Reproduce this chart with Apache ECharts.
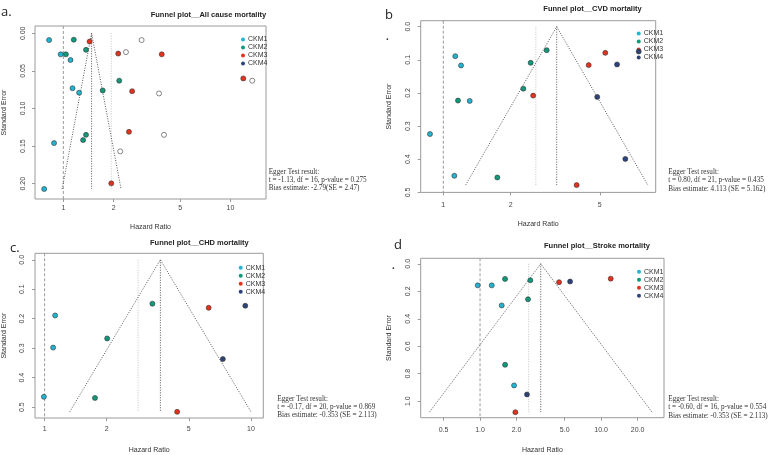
<!DOCTYPE html>
<html>
<head>
<meta charset="utf-8">
<script src="https://cdn.jsdelivr.net/npm/echarts@6/dist/echarts.min.js"></script>
<style>
  html, body { margin: 0; padding: 0; background: #fff; }
  #chart { width: 776px; height: 455px; }
</style>
</head>
<body>
<div id="chart"></div>
<script>
// Funnel plots, four panels. Points are [hazard ratio, standard error]
const groups = ['CKM1', 'CKM2', 'CKM3', 'CKM4'];
const groupColors = ['#22b4d3', '#10997a', '#e5321f', '#2d4379'];

// a. All cause mortality
const aCKM1 = [[0.822, 0.009], [0.964, 0.028], [1.104, 0.0355], [1.135, 0.073], [1.243, 0.079], [0.880, 0.146], [0.768, 0.207]];
const aCKM2 = [[1.155, 0.0085], [1.036, 0.028], [1.367, 0.022], [2.16, 0.063], [1.72, 0.076], [1.367, 0.135], [1.313, 0.142]];
const aCKM3 = [[1.436, 0.011], [2.13, 0.027], [3.88, 0.028], [11.93, 0.060], [2.58, 0.077], [2.47, 0.131], [1.936, 0.1995]];
const aCKM4 = [];
const aFilled = [[2.94, 0.009], [2.37, 0.025], [13.5, 0.063], [3.74, 0.080], [4.0, 0.135], [2.19, 0.157]];

// b. CVD mortality
const bCKM1 = [[1.131, 0.089], [1.20, 0.117], [1.312, 0.224], [0.872, 0.324], [1.12, 0.45]];
const bCKM2 = [[2.895, 0.071], [2.456, 0.109], [2.277, 0.187], [1.163, 0.223], [1.743, 0.455]];
const bCKM3 = [[5.29, 0.079], [4.46, 0.116], [2.52, 0.208], [3.94, 0.478]];
const bCKM4 = [[7.46, 0.075], [5.97, 0.114], [4.87, 0.212], [6.5, 0.399]];

// c. CHD mortality
const cCKM1 = [[1.125, 0.189], [1.10, 0.298], [0.992, 0.465]];
const cCKM2 = [[3.33, 0.149], [2.01, 0.267], [1.755, 0.469]];
const cCKM3 = [[6.24, 0.163], [4.39, 0.516]];
const cCKM4 = [[9.39, 0.156], [7.31, 0.337]];

// d. Stroke mortality
const dCKM1 = [[0.957, 0.157], [1.249, 0.157], [1.51, 0.303], [1.91, 0.885]];
const dCKM2 = [[1.609, 0.11], [2.60, 0.12], [2.49, 0.258], [1.61, 0.735]];
const dCKM3 = [[12.0, 0.108], [4.49, 0.134], [1.957, 1.08]];
const dCKM4 = [[5.54, 0.129], [2.44, 0.951]];

// pooled estimate (funnel apex) and the light dotted reference per panel
const funnelCenter = [1.476, 3.21, 3.64, 3.17];
const refLine = [1.936, 2.59, 2.84, 2.52];

const titles = ['Funnel plot__All cause mortality', 'Funnel plot__CVD mortality', 'Funnel plot__CHD mortality', 'Funnel plot__Stroke mortality'];
const panelLetters = ['a.', 'b', 'c.', 'd'];
const xTicks = [['1', '2', '5', '10'], ['1', '2', '5'], ['1', '2', '5', '10'], ['0.5', '1.0', '2.0', '5.0', '10.0', '20.0']];
const yTicks = [['0.00', '0.05', '0.10', '0.15', '0.20'], ['0.0', '0.1', '0.2', '0.3', '0.4', '0.5'], ['0.0', '0.1', '0.2', '0.3', '0.4', '0.5'], ['0.0', '0.2', '0.4', '0.6', '0.8', '1.0']];
const eggerText = [
    ['Egger Test result:', 't = -1.13, df = 16, p-value = 0.275', 'Bias estimate: -2.79(SE = 2.47)'],
    ['Egger Test result:', 't = 0.80, df = 21, p-value = 0.435', 'Bias estimate: 4.113 (SE = 5.162)'],
    ['Egger Test result:', 't = -0.17, df = 20, p-value = 0.869', 'Bias estimate: -0.353 (SE = 2.113)'],
    ['Egger Test result:', 't = -0.60, df = 16, p-value = 0.554', 'Bias estimate: -0.353 (SE = 2.113)']
];

const panelData = [
    [aCKM1, aCKM2, aCKM3, aCKM4],
    [bCKM1, bCKM2, bCKM3, bCKM4],
    [cCKM1, cCKM2, cCKM3, cCKM4],
    [dCKM1, dCKM2, dCKM3, dCKM4]
];

// layout (pixels) for each panel
const layout = [
    { grid: [32, 26, 234, 173], xMin: -0.1695, xMax: 1.2126, yMin: -0.0097, yMax: 0.2203, xMargin: 6, xGap: 25, yMargin: 8, yGap: 27,
      title: [150.7, 10.7], letter: [1, 12.7], legend: [236, 30.5], egger: [268.7, 172] },
    { grid: [420.7, 20.7, 235, 171.7], xMin: -0.101, xMax: 0.9486, yMin: -0.018, yMax: 0.5, xMargin: 9, xGap: 28.5, yMargin: 9, yGap: 28,
      title: [543.3, 4.8], letter: [385, 15.5], legend: [631.7, 24.5], egger: [668.3, 172.3] },
    { grid: [32.3, 253.3, 231, 170.4], xMin: -0.0465, xMax: 1.060, yMin: -0.022, yMax: 0.537, xMargin: 8, xGap: 29, yMargin: 9, yGap: 27,
      title: [150, 239.3], letter: [10, 248.5], legend: [233.7, 258.7], egger: [277.3, 398.7] },
    { grid: [420.7, 258.3, 243.3, 164.7], xMin: -0.490, xMax: 1.519, yMin: -0.04, yMax: 1.12, xMargin: 9, xGap: 29.3, yMargin: 9, yGap: 28,
      title: [544, 242.3], letter: [394, 245.5], legend: [632, 262.7], egger: [668.3, 399.3] }
];

const log10 = v => Math.log10(v);

function closestLabel(v, vals, labels) {
    let best = 0;
    vals.forEach((t, i) => { if (Math.abs(t - v) < Math.abs(vals[best] - v)) best = i; });
    return labels[best];
}

const grids = [], xAxes = [], yAxes = [], series = [], legends = [], graphics = [];

layout.forEach((L, p) => {
    grids.push({ left: L.grid[0], top: L.grid[1], width: L.grid[2], height: L.grid[3],
        show: true, borderColor: '#9a9a9a', borderWidth: 1, backgroundColor: 'transparent' });

    const xVals = xTicks[p].map(t => log10(parseFloat(t)));
    xAxes.push({
        type: 'value', gridIndex: p, position: 'bottom', min: L.xMin, max: L.xMax,
        axisLine: { show: false, onZero: false }, splitLine: { show: false },
        axisTick: { show: true, length: 3, customValues: xVals, lineStyle: { color: '#9a9a9a' } },
        axisLabel: { customValues: xVals, margin: L.xMargin, fontSize: 7, color: '#444', fontFamily: 'Liberation Sans',
            formatter: v => closestLabel(v, xVals, xTicks[p]) },
        name: 'Hazard Ratio', nameLocation: 'middle', nameGap: L.xGap,
        nameTextStyle: { fontSize: 7, color: '#333', fontFamily: 'Liberation Sans' }
    });

    const yVals = yTicks[p].map(t => parseFloat(t));
    yAxes.push({
        type: 'value', gridIndex: p, position: 'left', inverse: true, min: L.yMin, max: L.yMax,
        axisLine: { show: false, onZero: false }, splitLine: { show: false },
        axisTick: { show: true, length: 3, customValues: yVals, lineStyle: { color: '#9a9a9a' } },
        axisLabel: { customValues: yVals, rotate: 90, margin: L.yMargin, fontSize: 7, color: '#444', fontFamily: 'Liberation Sans',
            formatter: v => closestLabel(v, yVals, yTicks[p]) },
        name: 'Standard Error', nameLocation: 'middle', nameGap: L.yGap,
        nameTextStyle: { fontSize: 7, color: '#333', fontFamily: 'Liberation Sans' }
    });

    // funnel built from the pooled estimate and largest standard error
    const all = panelData[p].flat();
    const seMax = Math.max(...all.map(d => d[1]));
    const c = funnelCenter[p];
    const lo = log10(Math.exp(Math.log(c) - 1.96 * seMax));
    const hi = log10(Math.exp(Math.log(c) + 1.96 * seMax));
    const lineBase = { type: 'line', xAxisIndex: p, yAxisIndex: p, symbol: 'none', silent: true, z: 1, animation: false };

    series.push(Object.assign({}, lineBase, { data: [[0, L.yMin], [0, L.yMax]],
        lineStyle: { color: '#9a9a9a', width: 1, type: [3, 2] } }));
    series.push(Object.assign({}, lineBase, { data: [[log10(refLine[p]), 0], [log10(refLine[p]), seMax]],
        lineStyle: { color: '#c4c4c4', width: 1, type: [1, 1.5] } }));
    series.push(Object.assign({}, lineBase, { data: [[log10(c), 0], [log10(c), seMax]],
        lineStyle: { color: '#555', width: 1, type: [1, 1.5] } }));
    series.push(Object.assign({}, lineBase, { data: [[lo, seMax], [log10(c), 0], [hi, seMax]],
        lineStyle: { color: '#555', width: 1, type: [1, 1.5] } }));

    if (p === 0) {
        series.push({ type: 'scatter', name: 'filled', xAxisIndex: p, yAxisIndex: p, symbolSize: 5, z: 3, animation: false,
            itemStyle: { color: '#fff', borderColor: '#444', borderWidth: 0.8 },
            data: aFilled.map(d => [log10(d[0]), d[1]]) });
    }

    panelData[p].forEach((pts, g) => {
        series.push({ type: 'scatter', name: groups[g], xAxisIndex: p, yAxisIndex: p, symbolSize: 5, z: 4, animation: false,
            itemStyle: { color: groupColors[g], borderColor: '#333', borderWidth: 0.6, opacity: 1 },
            data: pts.map(d => [log10(d[0]), d[1]]) });
    });

    legends.push({ data: groups, orient: 'vertical', left: L.legend[0], top: L.legend[1],
        icon: 'circle', itemWidth: 4, itemHeight: 4, itemGap: 0, selectedMode: false,
        itemStyle: { borderWidth: 0 },
        textStyle: { fontSize: 7, color: '#333', lineHeight: 8, fontFamily: 'Liberation Sans', padding: [0, 0, 0, -2] } });

    graphics.push({ type: 'text', left: L.title[0], top: L.title[1],
        style: { text: titles[p], font: 'bold 7.5px "Liberation Sans"', fill: '#222', textAlign: 'center', textVerticalAlign: 'middle' } });
    graphics.push({ type: 'text', x: L.letter[0], y: L.letter[1],
        style: { text: panelLetters[p], font: '13px "Open Sans"', fill: '#222', textVerticalAlign: 'middle' } });
    eggerText[p].forEach((line, i) => {
        graphics.push({ type: 'text', x: L.egger[0], y: L.egger[1] + i * 8.2,
            style: { text: line, font: '7.2px "Liberation Serif"', fill: '#333', textVerticalAlign: 'middle' } });
    });
});

// small stray dots beside panels b and d
graphics.push({ type: 'text', x: 386, y: 37, style: { text: '.', font: 'bold 10px "Liberation Sans"', fill: '#333', textVerticalAlign: 'middle' } });
graphics.push({ type: 'text', x: 392, y: 266, style: { text: '.', font: 'bold 10px "Liberation Sans"', fill: '#333', textVerticalAlign: 'middle' } });

const chart = echarts.init(document.getElementById('chart'), null, { renderer: 'canvas' });
chart.setOption({
    animation: false,
    backgroundColor: '#fff',
    grid: grids,
    xAxis: xAxes,
    yAxis: yAxes,
    legend: legends,
    series: series,
    graphic: graphics
});
</script>
</body>
</html>
